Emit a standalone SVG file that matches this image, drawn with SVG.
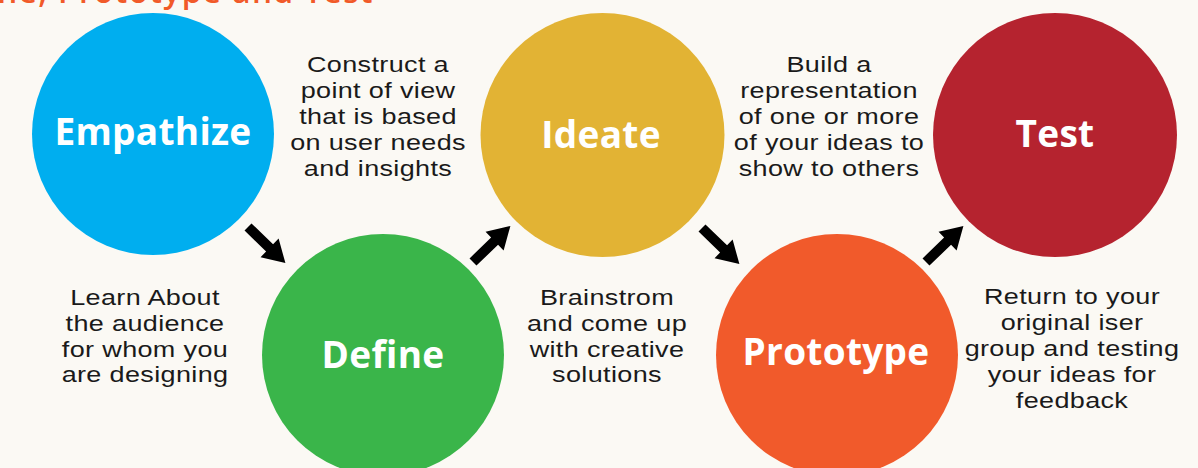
<svg xmlns="http://www.w3.org/2000/svg" width="1198" height="468" viewBox="0 0 1198 468">
<style>
.title{font-family:"Open Sans","Liberation Sans",sans-serif;font-weight:700;fill:#ffffff;text-anchor:middle;font-size:37px;letter-spacing:0.3px}
.body{font-family:"Liberation Sans",Arial,sans-serif;font-weight:400;fill:#1a1a1a;text-anchor:middle;font-size:22.5px;letter-spacing:0.3px}
.head{font-family:"Open Sans","Liberation Sans",sans-serif;font-weight:600;fill:#F15A29;font-size:31.5px;letter-spacing:1.5px;text-anchor:end}
</style>
<defs>
<path id="arr" d="M0,-5 L30,-5 L30,-13 L52,0 L30,13 L30,5 L0,5 Z" fill="#000000"/>
</defs>
<rect width="1198" height="468" fill="#FBF9F4"/>
<text class="head" x="374" y="3">Define, Prototype and Test</text>
<g id="empathize">
<circle cx="153" cy="134" r="121" fill="#00AEEF"/>
<text class="title" x="153" y="145">Empathize</text>
</g>
<g id="define">
<circle cx="383" cy="355" r="121" fill="#3AB54A"/>
<text class="title" x="383" y="368">Define</text>
</g>
<g id="ideate">
<circle cx="602.5" cy="135" r="122" fill="#E2B334"/>
<text class="title" x="601" y="148">Ideate</text>
</g>
<g id="prototype">
<circle cx="837" cy="355" r="121" fill="#F15A2B"/>
<text class="title" x="836" y="365">Prototype</text>
</g>
<g id="test">
<circle cx="1055" cy="135" r="122" fill="#B5232F"/>
<text class="title" x="1055" y="147">Test</text>
</g>
<g id="note-define" transform="translate(378,0) scale(1.2,1)">
<text class="body"><tspan x="0" y="72">Construct a</tspan><tspan x="0" y="98">point of view</tspan><tspan x="0" y="124">that is based</tspan><tspan x="0" y="150">on user needs</tspan><tspan x="0" y="176">and insights</tspan></text>
</g>
<g id="note-prototype" transform="translate(829,0) scale(1.2,1)">
<text class="body"><tspan x="0" y="72">Build a</tspan><tspan x="0" y="98">representation</tspan><tspan x="0" y="124">of one or more</tspan><tspan x="0" y="150">of your ideas to</tspan><tspan x="0" y="176">show to others</tspan></text>
</g>
<g id="note-empathize" transform="translate(145,0) scale(1.2,1)">
<text class="body"><tspan x="0" y="305">Learn About</tspan><tspan x="0" y="331">the audience</tspan><tspan x="0" y="357">for whom you</tspan><tspan x="0" y="382">are designing</tspan></text>
</g>
<g id="note-ideate" transform="translate(607,0) scale(1.2,1)">
<text class="body"><tspan x="0" y="305">Brainstrom</tspan><tspan x="0" y="331">and come up</tspan><tspan x="0" y="357">with creative</tspan><tspan x="0" y="382">solutions</tspan></text>
</g>
<g id="note-test" transform="translate(1072,0) scale(1.2,1)">
<text class="body"><tspan x="0" y="304">Return to your</tspan><tspan x="0" y="330">original iser</tspan><tspan x="0" y="356">group and testing</tspan><tspan x="0" y="382">your ideas for</tspan><tspan x="0" y="408">feedback</tspan></text>
</g>
<g id="connectors">
<use href="#arr" transform="translate(248,227) rotate(44)"/>
<use href="#arr" transform="translate(473,262) rotate(-44)"/>
<use href="#arr" transform="translate(702,228) rotate(44)"/>
<use href="#arr" transform="translate(926,262) rotate(-44)"/>
</g>
</svg>
